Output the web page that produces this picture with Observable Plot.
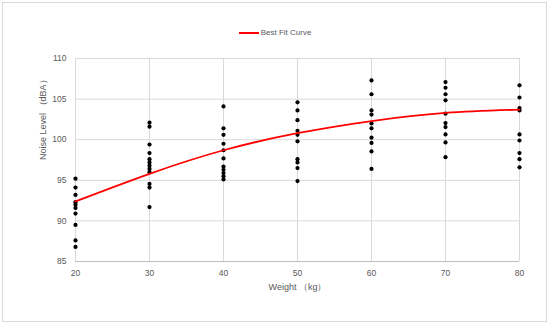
<!DOCTYPE html>
<html>
<head>
<meta charset="utf-8">
<script src="https://cdn.jsdelivr.net/npm/d3@7"></script>
<script src="https://cdn.jsdelivr.net/npm/@observablehq/plot@0.6"></script>
<style>
  html, body { margin: 0; padding: 0; background: #fff; }
  #wrap { position: relative; width: 550px; height: 326px; overflow: hidden; font-family: "Liberation Sans", Arial, sans-serif; }
  #frame { position: absolute; left: 2px; top: 2px; width: 545px; height: 320px; border: 1px solid #d9d9d9; box-sizing: border-box; }
  #legend { position: absolute; top: 28px; left: 0; width: 550px; text-align: center; font-size: 8px; color: #595959; }
  #legend .sw { display: inline-block; width: 20px; height: 2px; background: #ff0000; vertical-align: middle; margin-right: 2px; }
  #legend span.t { vertical-align: middle; }
  #chart { position: absolute; left: 0; top: 0; }
</style>
</head>
<body>
<div id="wrap">
  <div id="frame"></div>
  <div id="chart"></div>
  <div id="legend"><span class="sw"></span><span class="t">Best Fit Curve</span></div>
</div>
<script>
// Measured noise levels (dBA) at each weight (kg)
const weights = [20, 30, 40, 50, 60, 70, 80];
const noise20 = [95.2, 94.1, 93.2, 92.3, 92.0, 91.6, 90.9, 89.5, 87.6, 86.8];
const noise30 = [102.1, 101.6, 99.4, 98.35, 97.6, 97.2, 96.8, 96.4, 96.0, 94.55, 94.1, 91.7];
const noise40 = [104.1, 101.4, 100.6, 99.5, 98.7, 97.7, 96.7, 96.3, 95.9, 95.5, 95.1];
const noise50 = [104.6, 103.6, 102.4, 101.1, 100.6, 99.8, 97.6, 97.2, 96.5, 94.9];
const noise60 = [107.3, 105.6, 103.6, 103.1, 102.0, 101.4, 100.25, 99.6, 98.55, 96.4];
const noise70 = [107.1, 106.4, 105.6, 104.85, 103.2, 102.05, 101.55, 100.65, 99.67, 97.85];
const noise80 = [106.7, 105.2, 103.9, 103.6, 100.65, 99.9, 98.35, 97.6, 96.6];

// Best fit curve
const fitWeights = [20, 30, 40, 50, 60, 70, 80];
const fitNoise = [92.4, 95.8, 98.7, 100.8, 102.3, 103.3, 103.7];

const xTicks = [20, 30, 40, 50, 60, 70, 80];
const yTicks = [85, 90, 95, 100, 105, 110];
const xLabel = "Weight （kg）";
const yLabel = "Noise Level （dBA）";

const series = [noise20, noise30, noise40, noise50, noise60, noise70, noise80];
const points = [];
series.forEach((arr, i) => arr.forEach(v => points.push({weight: weights[i], noise: v})));
const fit = fitWeights.map((w, i) => ({weight: w, noise: fitNoise[i]}));

const plot = Plot.plot({
  width: 550,
  height: 326,
  marginLeft: 75,
  marginRight: 31,
  marginTop: 58,
  marginBottom: 65,
  style: {fontFamily: "'Liberation Sans', Arial, sans-serif", fontSize: "8.5px", color: "#595959", background: "transparent", overflow: "visible"},
  x: {domain: [20, 80]},
  y: {domain: [85, 110]},
  marks: [
    Plot.gridX(xTicks, {stroke: "#d9d9d9", strokeOpacity: 1, strokeWidth: 1}),
    Plot.gridY(yTicks, {stroke: "#d9d9d9", strokeOpacity: 1, strokeWidth: 1}),
    Plot.ruleY([85], {stroke: "#bfbfbf", strokeWidth: 1}),
    Plot.axisX(xTicks, {tickSize: 0, tickPadding: 8, label: null, fontSize: 8.5}),
    Plot.axisY(yTicks, {tickSize: 0, tickPadding: 9, label: null, fontSize: 8.5}),
    Plot.text([xLabel], {frameAnchor: "bottom", dy: 28, fontSize: 9, fill: "#595959"}),
    Plot.text([yLabel], {frameAnchor: "left", rotate: -90, dx: -32, fontSize: 9, fill: "#595959"}),
    Plot.dot(points, {x: "weight", y: "noise", r: 2.1, fill: "#000", stroke: "none"}),
    Plot.line(fit, {x: "weight", y: "noise", stroke: "#ff0000", strokeWidth: 1.8, curve: "natural"})
  ]
});
document.getElementById("chart").appendChild(plot);
</script>
</body>
</html>
